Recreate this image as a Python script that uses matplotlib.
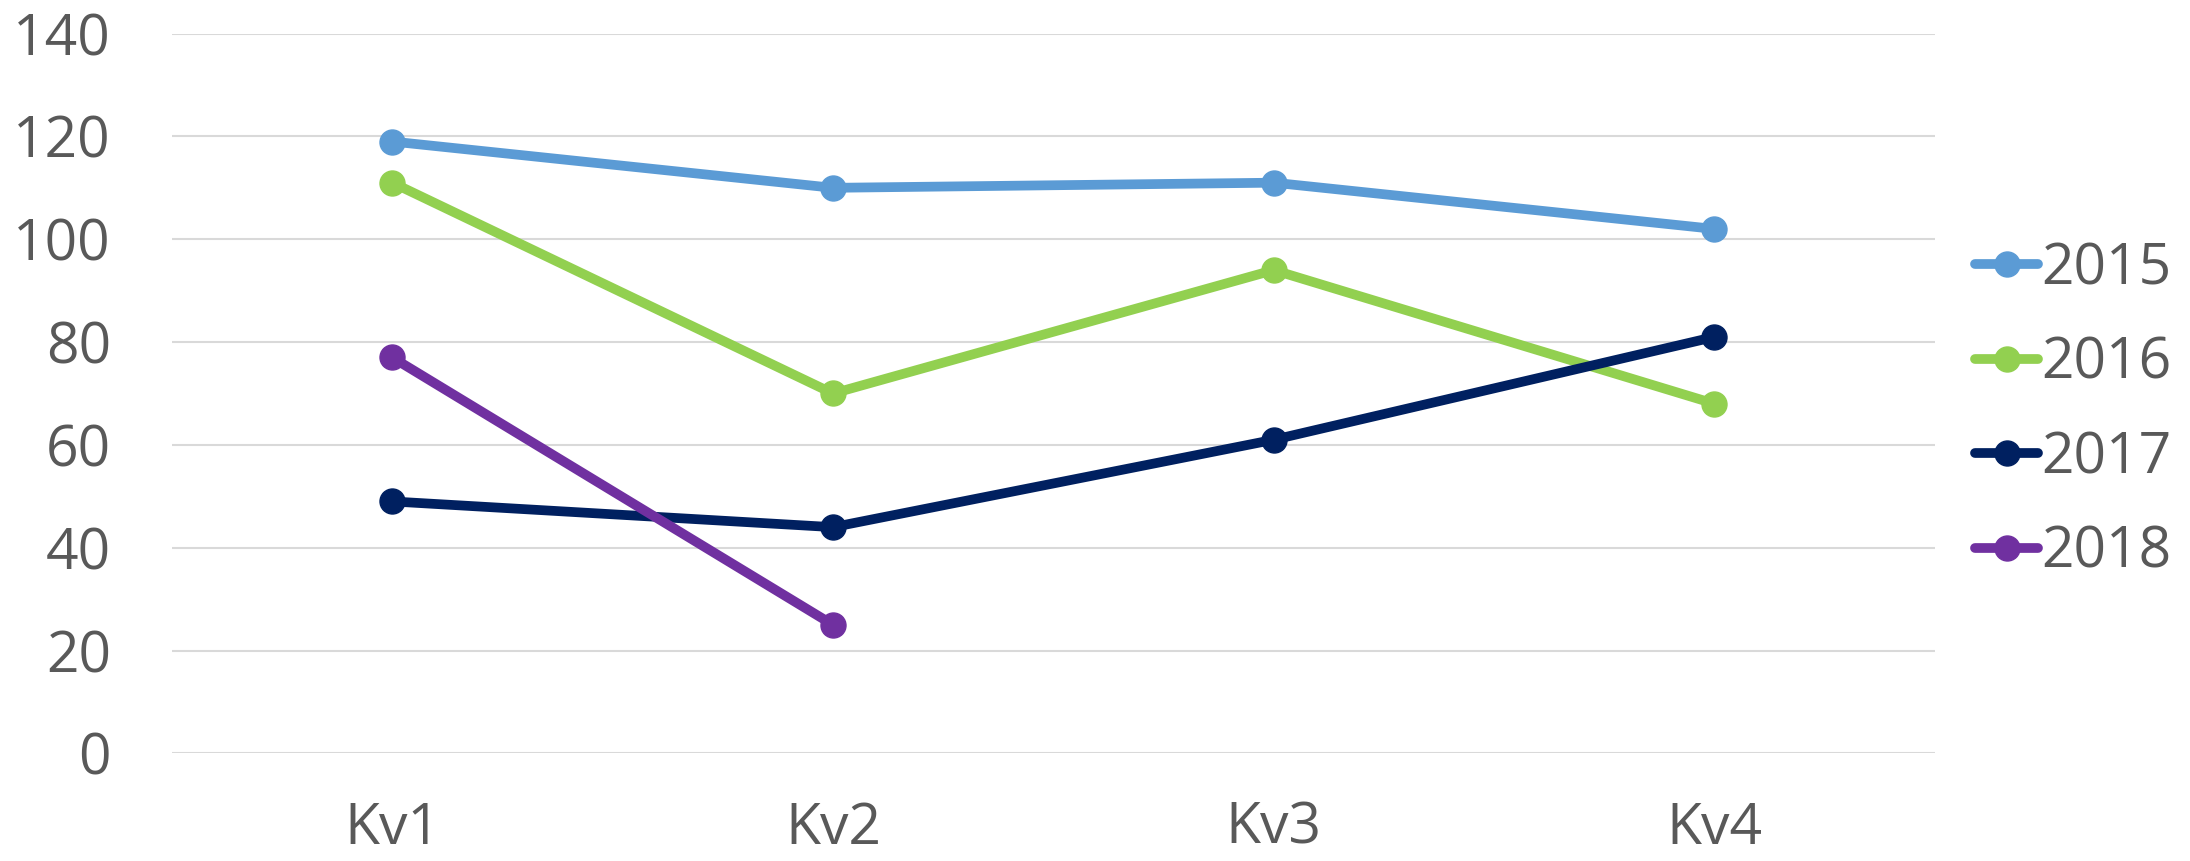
import matplotlib
matplotlib.use("Agg")
import matplotlib.pyplot as plt

plt.rcParams["font.family"] = ["Open Sans", "DejaVu Sans"]

quarters = ["Kv1", "Kv2", "Kv3", "Kv4"]
y2015 = [119, 110, 111, 102]
y2016 = [111, 70, 94, 68]
y2017 = [49, 44, 61, 81]
y2018 = [77, 25]

series = [
    ("2015", y2015, "#5B9BD5"),
    ("2016", y2016, "#92D050"),
    ("2017", y2017, "#002060"),
    ("2018", y2018, "#7030A0"),
]

TEXT = "#595959"

fig = plt.figure(figsize=(21.9, 8.61), dpi=100)
ax = fig.add_axes([0.0785, 0.125, 0.805, 0.836])

x = list(range(len(quarters)))
for name, vals, color in series:
    ax.plot(x[:len(vals)], vals, color=color, linewidth=7, marker="o",
            markersize=18, label=name, solid_capstyle="round")

ax.set_xlim(-0.5, 3.5)
ax.set_ylim(0, 140)
ax.set_yticks(range(0, 141, 20))
ax.set_xticks(x)
ax.set_xticklabels(quarters)
ax.tick_params(axis="both", length=0, labelsize=41, colors=TEXT)
ax.tick_params(axis="y", pad=44)
ax.tick_params(axis="x", pad=34)
for s in ax.spines.values():
    s.set_visible(False)
ax.grid(True, axis="y", color="#D9D9D9", linewidth=1.5)
ax.set_axisbelow(True)

fig.legend(loc="center left", bbox_to_anchor=(0.889, 0.522), frameon=False,
           fontsize=41, handlelength=1.1, handletextpad=0.05,
           labelspacing=0.66, borderpad=0, labelcolor=TEXT)

fig.savefig("out.png", dpi=100, facecolor="white")
